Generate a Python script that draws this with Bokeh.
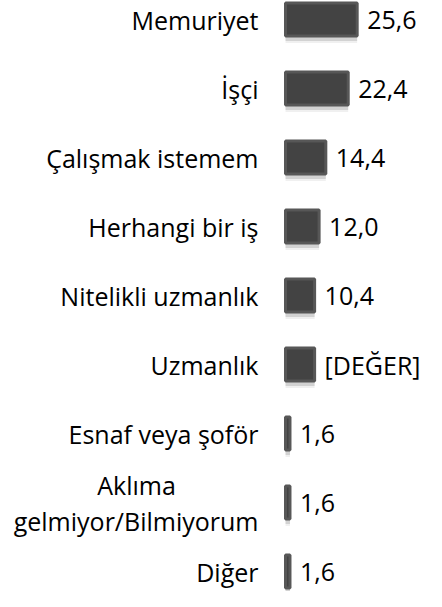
from bokeh.plotting import figure
from bokeh.models import Range1d, ColumnDataSource
from bokeh.core.properties import value
from bokeh.embed import file_html
from bokeh.resources import INLINE

categories = ["Memuriyet", "İşçi", "Çalışmak istemem", "Herhangi bir iş",
              "Nitelikli uzmanlık", "Uzmanlık", "Esnaf veya şoför",
              "Aklıma\ngelmiyor/Bilmiyorum", "Diğer"]
values = [25.6, 22.4, 14.4, 12.0, 10.4, 10.4, 1.6, 1.6, 1.6]
value_labels = ["25,6", "22,4", "14,4", "12,0", "10,4", "[DEĞER]", "1,6", "1,6", "1,6"]

W, H = 426, 591
PX_PER_UNIT = 2.8
ZERO_PX = 285.0
ROW_PX = 69.0
TOP_PX = 19.0

x_start = -ZERO_PX / PX_PER_UNIT
x_end = x_start + W / PX_PER_UNIT
y_top = -TOP_PX / ROW_PX
y_bottom = y_top + H / ROW_PX

p = figure(width=W, height=H, output_backend="svg", toolbar_location=None,
           x_range=Range1d(x_start, x_end), y_range=Range1d(y_bottom, y_top),
           min_border=0, outline_line_color=None)
p.axis.visible = False
p.grid.visible = False
p.background_fill_color = "white"
p.border_fill_color = "white"

idx = list(range(len(categories)))
src = ColumnDataSource(dict(
    y=idx, v=values,
    ys1=[i + 5 / ROW_PX for i in idx], ys2=[i + 7 / ROW_PX for i in idx],
    vl=value_labels,
))

bh = 33 / ROW_PX
# soft shadow
p.hbar(y="ys2", left=0, right="v", height=bh, source=src,
       fill_color="black", fill_alpha=0.06, line_color=None)
p.hbar(y="ys1", left=0, right="v", height=bh, source=src,
       fill_color="black", fill_alpha=0.12, line_color=None)
# bars
p.hbar(y="y", left=0, right="v", height=bh, source=src,
       fill_color="#434343", line_color="#575757", line_width=3)

FONT = value("Open Sans")
LABEL_OFF = -27.0

single = [i for i, c in enumerate(categories) if "\n" not in c]
multi = [i for i, c in enumerate(categories) if "\n" in c]
ssrc = ColumnDataSource(dict(y=[idx[i] for i in single], t=[categories[i] for i in single]))
p.text(x=0, y="y", text="t", source=ssrc, text_align="right", text_baseline="middle",
       x_offset=LABEL_OFF, text_font=FONT, text_font_size="25px", text_color="black")

for i in multi:
    lines = categories[i].split("\n")
    n = len(lines)
    long_line = max(lines, key=len)
    for k, ln in enumerate(lines):
        yoff = (k - (n - 1) / 2) * 36
        if ln == long_line:
            p.text(x=[0], y=[idx[i]], text=[ln], text_align="right", text_baseline="middle",
                   x_offset=LABEL_OFF, y_offset=yoff, text_font=FONT,
                   text_font_size="25px", text_color="black")
        else:
            p.text(x=[0], y=[idx[i]], text=[ln], text_align="center", text_baseline="middle",
                   x_offset=LABEL_OFF - 122, y_offset=yoff, text_font=FONT,
                   text_font_size="25px", text_color="black")

p.text(x="v", y="y", text="vl", source=src, text_align="left", text_baseline="middle",
       x_offset=10, text_font=FONT, text_font_size="25px", text_color="black")

open("out.html", "w").write(file_html(p, INLINE))
